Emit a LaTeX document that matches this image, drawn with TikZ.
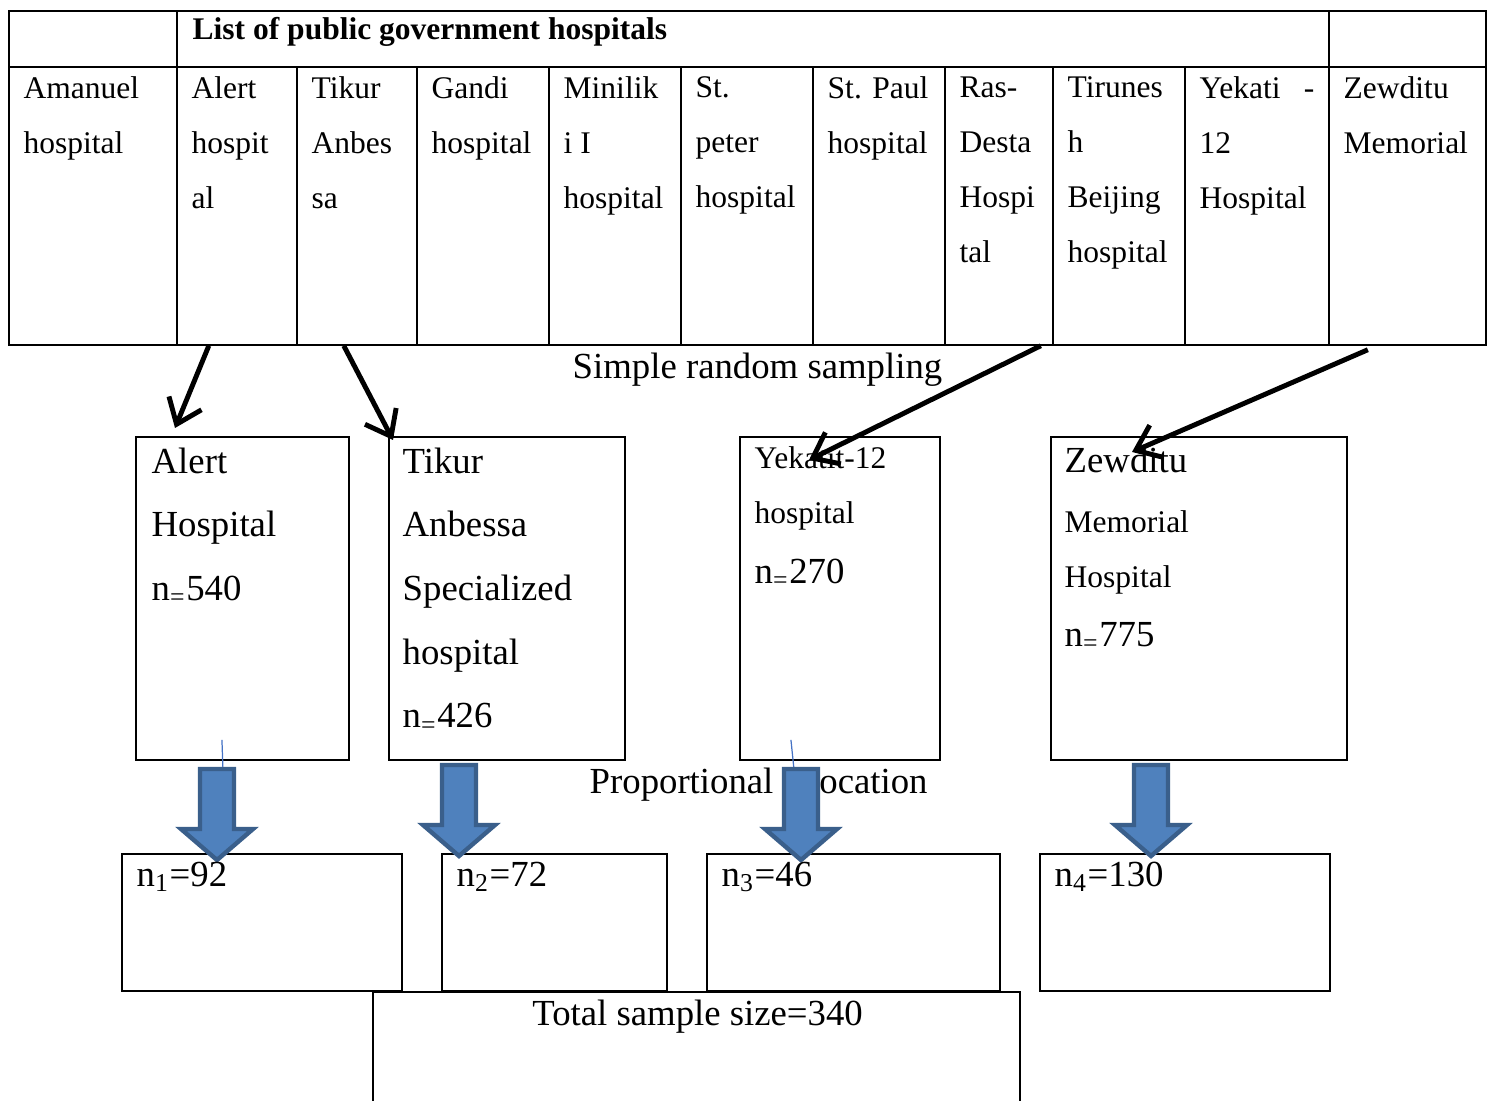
\documentclass[tikz,border=0pt]{standalone}
\usepackage{fontspec}
\setmainfont{Liberation Serif}
\usetikzlibrary{arrows.meta,calc}

\definecolor{arrowblue}{HTML}{4F81BD}
\definecolor{arrowedge}{HTML}{3A5F8B}
\definecolor{linkblue}{HTML}{4472C4}

\newcommand{\tabfont}{\fontsize{8.96pt}{15.65pt}\selectfont}
\newcommand{\boxfont}{\fontsize{10.45pt}{18.1pt}\selectfont}

\tikzset{
	cell/.style={draw, line width=0.45pt, anchor=north west, inner sep=0pt},
	celltext/.style={anchor=north west, inner sep=0pt, align=left, font=\tabfont},
	box/.style={draw, line width=0.5pt, anchor=north west, inner sep=0pt},
	boxtext/.style={anchor=north west, inner sep=0pt, align=left, font=\boxfont},
	mixtext/.style={anchor=north west, inner sep=0pt, align=left, font=\tabfont},
	linetext/.style={anchor=base west, inner sep=0pt, font=\boxfont},
	sampling/.style={line width=1.4pt, -{Straight Barb[length=6.5pt,width=10pt]}},
	blockarrow/.pic={
		\draw[fill=arrowblue, draw=arrowedge, line width=1.25pt]
			(-17,0) -- (17,0) -- (17,60) -- (36,60) -- (0,91) -- (-36,60) -- (-17,60) -- cycle;
	}
}

\begin{document}
\begin{tikzpicture}[x=0.01cm, y=-0.01cm]
	
	% Page frame (pixel units, y downwards)
	\useasboundingbox (0,0) rectangle (1489,1101);
	\clip (0,0) rectangle (1489,1101);
	
	% Header row of the table
	\node[cell, minimum width=1.68cm, minimum height=0.56cm] (corner) at (8,10) {};
	\node[cell, minimum width=11.52cm, minimum height=0.56cm] (header) at (176,10) {};
	\node[cell, minimum width=1.57cm, minimum height=0.56cm] (hright) at (1328,10) {};
	\node[anchor=base west, inner sep=0pt, font=\tabfont\bfseries] (title) at (192,40) {List of public government hospitals};
	
	% Hospital columns
	\foreach \xa/\xb/\nm/\txt in {
		8/176/amanuel/{Amanuel\\hospital},
		176/296/alertc/{Alert\\hospit\\al},
		296/416/tikurc/{Tikur\\Anbes\\sa},
		416/548/gandi/{Gandi\\hospital},
		548/680/minilik/{Minilik\\i I\\hospital},
		680/812/peter/{St.\\peter\\hospital},
		812/944/paul/{St. Paul\\hospital},
		944/1052/rasdesta/{Ras-\\Desta\\Hospi\\tal},
		1052/1184/tirunesh/{Tirunes\\h\\Beijing\\hospital},
		1184/1328/yekatitc/{Yekati\hspace{6.6pt}-\\12\\Hospital},
		1328/1485/zewdituc/{Zewditu\\Memorial}} {
		\node[cell, minimum width={(\xb-\xa)*0.01cm}, minimum height=2.78cm] (\nm) at (\xa,66) {};
		\node[celltext] (\nm-t) at ($(\nm.north west)+(15,10)$) {\txt};
	}
	
	% Selected hospitals
	\node[box, minimum width=2.13cm, minimum height=3.23cm] (alert) at (135,436) {};
	\node[box, minimum width=2.36cm, minimum height=3.23cm] (tikur) at (388,436) {};
	\node[box, minimum width=2.00cm, minimum height=3.23cm] (yekatit) at (739,436) {};
	\node[box, minimum width=2.96cm, minimum height=3.23cm] (zewditu) at (1050,436) {};
	
	\node[boxtext] (alert-t) at ($(alert.north west)+(16,11)$) {Alert\\Hospital\\n\textsubscript{=}540};
	\node[boxtext] (tikur-t) at ($(tikur.north west)+(14,11)$) {Tikur\\Anbessa\\Specialized\\hospital\\n\textsubscript{=}426};
	\node[mixtext] (yekatit-t) at ($(yekatit.north west)+(15,10)$) {Yekatit-12\\hospital\\[1.4pt]{\boxfont n\textsubscript{=}270}};
	\node[mixtext] (zewditu-t) at ($(zewditu.north west)+(14,10)$) {{\boxfont Zewditu}\\[1.4pt]Memorial\\Hospital\\[1.1pt]{\boxfont n\textsubscript{=}775}};
	
	% Step labels
	\node[linetext] (srs) at (572,379) {Simple random sampling};
	\node[linetext] (alloc) at (589,793) {Proportional allocation};
	
	% Sample per hospital
	\node[box, minimum width=2.80cm, minimum height=1.37cm] (n1box) at (121,853) {};
	\node[box, minimum width=2.25cm, minimum height=1.37cm] (n2box) at (441,853) {};
	\node[box, minimum width=2.93cm, minimum height=1.37cm] (n3box) at (706,853) {};
	\node[box, minimum width=2.90cm, minimum height=1.37cm] (n4box) at (1039,853) {};
	\node[box, minimum width=6.47cm, minimum height=1.30cm] (total) at (372,991) {};
	
	% Thin links under the block arrows
	\draw[linkblue, line width=0.35pt] ($(alert.south)+(-20.5,-21)$) -- ($(alert.south)+(-19.5,8)$);
	\draw[linkblue, line width=0.35pt] ($(yekatit.south)+(-49,-21)$) -- ($(yekatit.south)+(-46,8)$);
	
	% Block arrows (proportional allocation)
	\coordinate (a1) at (217,769);
	\coordinate (a2) at (459,765);
	\coordinate (a3) at (801,769);
	\coordinate (a4) at (1151,765);
	\foreach \c in {a1,a2,a3,a4} {
		\pic at (\c) {blockarrow};
	}
	
	\node[linetext] (n1) at ($(n1box.north west)+(15,33)$) {n\textsubscript{1}=92};
	\node[linetext] (n2) at ($(n2box.north west)+(15,33)$) {n\textsubscript{2}=72};
	\node[linetext] (n3) at ($(n3box.north west)+(15,33)$) {n\textsubscript{3}=46};
	\node[linetext] (n4) at ($(n4box.north west)+(15,33)$) {n\textsubscript{4}=130};
	\node[linetext, anchor=base] (total-t) at ($(total.north)+(1,34)$) {Total sample size=340};
	
	% Simple random sampling arrows
	\draw[sampling] ($(alertc.south)+(-28,0)$) -- ($(alert.north west)+(40,-8)$);
	\draw[sampling] ($(tikurc.south)+(-13,0)$) -- ($(tikur.north west)+(5,4)$);
	\draw[sampling] ($(rasdesta.south)+(42,0)$) -- ($(yekatit.north west)+(70,24)$);
	\draw[sampling] ($(zewdituc.south)+(-39.5,4)$) -- ($(zewditu.north west)+(82,16)$);
	
\end{tikzpicture}
\end{document}
